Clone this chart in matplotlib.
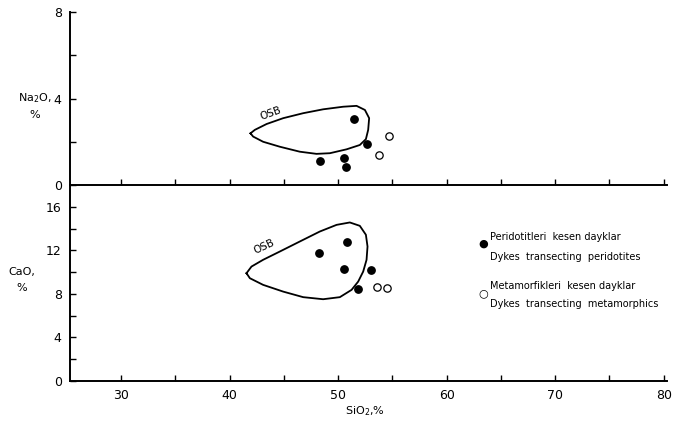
import matplotlib
matplotlib.use("Agg")
import matplotlib.pyplot as plt

# Data
na_peri_x = [51.5, 52.7, 48.3, 50.5, 50.7]
na_peri_y = [3.05, 1.9, 1.1, 1.25, 0.83]
na_meta_x = [54.7, 53.8]
na_meta_y = [2.27, 1.39]

ca_peri_x = [50.8, 48.25, 50.5, 53.0, 51.8]
ca_peri_y = [12.8, 11.74, 10.3, 10.18, 8.43]
ca_meta_x = [53.6, 54.55]
ca_meta_y = [8.67, 8.52]

# OSB field outlines
osb_na_x = [41.93, 42.33, 43.41, 44.94, 46.78, 48.62, 50.47, 51.70, 52.47, 52.86,
            52.77, 52.56, 52.00, 50.78, 49.24, 48.01, 46.47, 44.63, 43.09, 42.17, 41.93]
osb_na_y = [2.39, 2.55, 2.82, 3.09, 3.32, 3.50, 3.62, 3.66, 3.47, 3.09,
            2.55, 2.12, 1.85, 1.65, 1.47, 1.44, 1.54, 1.77, 2.00, 2.24, 2.39]
osb_ca_x = [41.56, 42.02, 43.09, 44.63, 46.47, 48.32, 49.86, 51.08, 52.00, 52.56, 52.71,
            52.62, 52.31, 51.85, 51.24, 50.16, 48.62, 46.78, 44.94, 43.09, 41.87, 41.56]
osb_ca_y = [9.90, 10.51, 11.13, 11.89, 12.81, 13.73, 14.34, 14.56, 14.25, 13.43, 12.35,
            11.13, 10.05, 9.13, 8.37, 7.70, 7.51, 7.70, 8.21, 8.83, 9.44, 9.90]

xticks = [30, 35, 40, 45, 50, 55, 60, 65, 70, 75, 80]
xlabels = ["30", "", "40", "", "50", "", "60", "", "70", "", "80"]
na_ticks = [0, 2, 4, 6, 8]
na_labels = ["0", "", "4", "", "8"]
ca_ticks = [0, 2, 4, 6, 8, 10, 12, 14, 16]
ca_labels = ["0", "", "4", "", "8", "", "12", "", "16"]

fig = plt.figure(figsize=(6.96, 4.41), dpi=100)
W, H = 696, 441
left = 70 / W
width = (667 - 70) / W
ax1 = fig.add_axes([left, 1 - 185 / H, width, (185 - 12) / H])
ax2 = fig.add_axes([left, 1 - 381 / H, width, (381 - 185) / H])

xlim = (25.3, 80.3)
for ax in (ax1, ax2):
    ax.set_xlim(*xlim)
    for s in ("top", "right"):
        ax.spines[s].set_visible(False)
    for s in ("left", "bottom"):
        ax.spines[s].set_linewidth(1.4)
        ax.spines[s].set_color("black")
    ax.tick_params(direction="in", length=4, width=1, labelsize=9, pad=6)
    ax.set_xticks(xticks)
    ax.patch.set_alpha(0)

ax1.set_xticklabels([])
ax2.set_xticklabels(xlabels)
ax1.set_ylim(0, 8)
ax1.set_yticks(na_ticks)
ax1.set_yticklabels(na_labels)
ax2.set_ylim(0, 18)
ax2.set_yticks(ca_ticks)
ax2.set_yticklabels(ca_labels)

# Upper panel
ax1.plot(osb_na_x, osb_na_y, color="black", lw=1.3, solid_joinstyle="round")
ax1.scatter(na_peri_x, na_peri_y, s=28, color="black", zorder=3)
ax1.scatter(na_meta_x, na_meta_y, s=28, facecolor="white", edgecolor="black", lw=0.9, zorder=3)
ax1.text(43.8, 3.3, "OSB", fontsize=7.5, rotation=20, ha="center", va="center")

# Lower panel
ax2.plot(osb_ca_x, osb_ca_y, color="black", lw=1.3, solid_joinstyle="round")
ax2.scatter(ca_peri_x, ca_peri_y, s=28, color="black", zorder=3)
ax2.scatter(ca_meta_x, ca_meta_y, s=28, facecolor="white", edgecolor="black", lw=0.9, zorder=3)
ax2.text(43.2, 12.3, "OSB", fontsize=7.5, rotation=25, ha="center", va="center")

# Legend as text
fig.text(483 / W, 1 - 244 / H, "●", fontsize=8, ha="center", va="center")
fig.text(490 / W, 1 - 237 / H, "Peridotitleri  kesen dayklar", fontsize=7, va="center")
fig.text(490 / W, 1 - 257 / H, "Dykes  transecting  peridotites", fontsize=7, va="center")
fig.text(483 / W, 1 - 293 / H, "○", fontsize=8, ha="center", va="center")
fig.text(490 / W, 1 - 286 / H, "Metamorfikleri  kesen dayklar", fontsize=7, va="center")
fig.text(490 / W, 1 - 304 / H, "Dykes  transecting  metamorphics", fontsize=7, va="center")

# Axis labels
fig.text(35 / W, 1 - 106 / H, "Na$_2$O,\n%", fontsize=8, ha="center", va="center", linespacing=1.6)
fig.text(22 / W, 1 - 280 / H, "CaO,\n%", fontsize=8, ha="center", va="center", linespacing=1.8)
fig.text(365 / W, 1 - 411 / H, "SiO$_2$,%", fontsize=8, ha="center", va="center")

fig.savefig("out.png", dpi=100)
